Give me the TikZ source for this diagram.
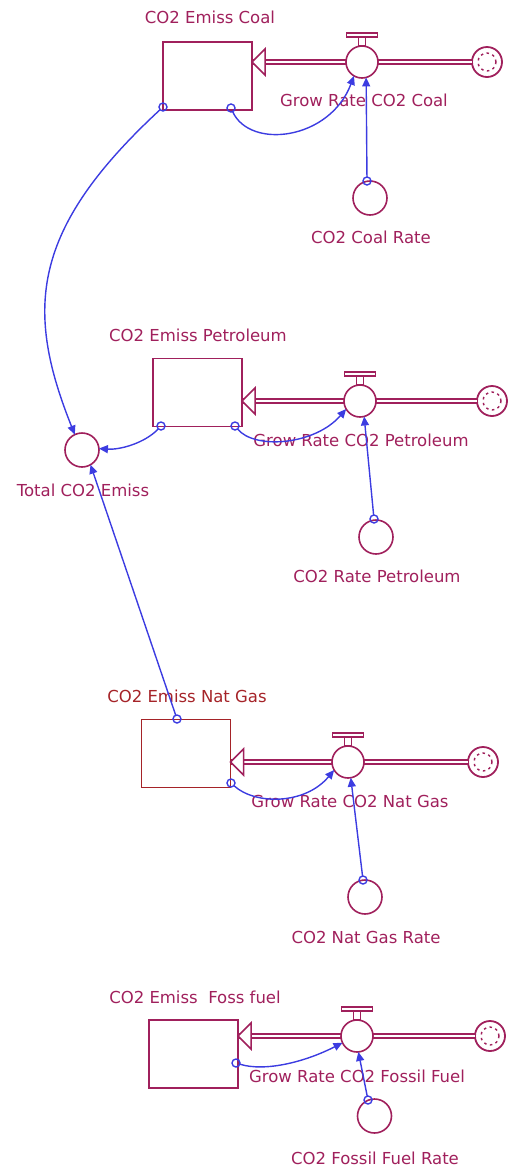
\documentclass[tikz,border=0pt]{standalone}
\usepackage{fontspec}
\setmainfont{DejaVu Sans}
\usetikzlibrary{arrows.meta}
\definecolor{mar}{RGB}{160,32,92}
\definecolor{gasred}{RGB}{165,35,40}
\definecolor{lnk}{RGB}{60,60,225}
\newcommand\valvetop[1]{%
  \draw[mar, line width=1.4pt, fill=white] ([shift={(-3.5,-9)}]#1.north) rectangle ([shift={(3.5,0)}]#1.north);
  \draw[mar, line width=1.4pt, fill=white] ([shift={(-15.5,-13)}]#1.north) rectangle ([shift={(15.5,-9)}]#1.north);}
\newcommand\cloudin[1]{%
  \draw[mar, line width=1.4pt, dash pattern=on 2.5pt off 3.5pt] (#1.center) circle[radius=9pt];}
\begin{document}
\begin{tikzpicture}[x=1pt,y=-1pt,
  every node/.style={inner sep=0pt, outer sep=0pt},
  lbl/.style={text=mar, font=\fontsize{16.5}{18}\selectfont},
  stockbox/.style={draw=mar, line width=1.8pt, rectangle, minimum width=89pt, minimum height=68pt},
  valvec/.style={draw=mar, line width=1.6pt, circle, fill=white, minimum size=32pt},
  auxc/.style={draw=mar, line width=1.6pt, circle, minimum size=34pt},
  cloudc/.style={draw=mar, line width=1.8pt, circle, fill=white, minimum size=30pt},
  linkc/.style={draw=lnk, line width=1.4pt, circle, minimum size=8pt},
  conn/.style={draw=lnk, line width=1.4pt, -{Triangle[length=9pt,width=8pt]}},
  pipe/.style={draw=mar, line width=1.5pt, double=white, double distance=2.6pt},
  flowhead/.style={draw=mar, line width=1.5pt, fill=white, line join=miter},
]
\useasboundingbox (0,0) rectangle (509,1171);

% ---------- Coal ----------
\node[stockbox] (sCoal) at (207.5,76) {};
\node[lbl] (tCoal) at (210,17) {CO2 Emiss Coal};
\coordinate (pCoal) at (362,62);
\node[cloudc] (cCoal) at (487,62) {};
\cloudin{cCoal}
\draw[pipe] (cCoal.west) -- (sCoal.east |- pCoal);
\draw[flowhead] (sCoal.east |- pCoal) -- ++(13,-13) -- ++(0,26) -- cycle;
\node[valvec] (vCoal) at (pCoal) {};
\valvetop{vCoal}
\node[lbl] (gCoal) at (364,100) {Grow Rate CO2 Coal};
\node[auxc] (rCoal) at (370,198) {};
\node[lbl] (rlCoal) at (371,237) {CO2 Coal Rate};

% ---------- Petroleum ----------
\node[stockbox] (sPet) at (197.5,392.5) {};
\node[lbl] (tPet) at (198,335) {CO2 Emiss Petroleum};
\coordinate (pPet) at (360,401);
\node[cloudc] (cPet) at (492,401) {};
\cloudin{cPet}
\draw[pipe] (cPet.west) -- (sPet.east |- pPet);
\draw[flowhead] (sPet.east |- pPet) -- ++(13,-13) -- ++(0,26) -- cycle;
\node[valvec] (vPet) at (pPet) {};
\valvetop{vPet}
\node[lbl] (gPet) at (361,440) {Grow Rate CO2 Petroleum};
\node[auxc] (rPet) at (376,537) {};
\node[lbl] (rlPet) at (377,576) {CO2 Rate Petroleum};

% ---------- Total ----------
\node[auxc] (total) at (82,450) {};
\node[lbl] (tTotal) at (83,490) {Total CO2 Emiss};

% ---------- Nat Gas ----------
\node[stockbox, draw=gasred] (sGas) at (186,753.5) {};
\node[lbl, text=gasred] (tGas) at (187,696) {CO2 Emiss Nat Gas};
\coordinate (pGas) at (348,762);
\node[cloudc] (cGas) at (483,762) {};
\cloudin{cGas}
\draw[pipe] (cGas.west) -- (sGas.east |- pGas);
\draw[flowhead] (sGas.east |- pGas) -- ++(13,-13) -- ++(0,26) -- cycle;
\node[valvec] (vGas) at (pGas) {};
\valvetop{vGas}
\node[lbl] (gGas) at (350,801) {Grow Rate CO2 Nat Gas};
\node[auxc] (rGas) at (365,897) {};
\node[lbl] (rlGas) at (366,937) {CO2 Nat Gas Rate};

% ---------- Fossil ----------
\node[stockbox] (sFos) at (193.5,1054) {};
\node[lbl] (tFos) at (195,997) {CO2 Emiss\ \ Foss fuel};
\coordinate (pFos) at (357,1036);
\node[cloudc] (cFos) at (490,1036) {};
\cloudin{cFos}
\draw[pipe] (cFos.west) -- (sFos.east |- pFos);
\draw[flowhead] (sFos.east |- pFos) -- ++(13,-13) -- ++(0,26) -- cycle;
\node[valvec] (vFos) at (pFos) {};
\valvetop{vFos}
\node[lbl] (gFos) at (357,1076) {Grow Rate CO2 Fossil Fuel};
\node[auxc] (rFos) at (374.5,1116) {};
\node[lbl] (rlFos) at (375,1158) {CO2 Fossil Fuel Rate};

% ---------- link circles ----------
\node[linkc] (lCoalT) at (163,107) {};
\node[linkc] (lCoalB) at (231,108) {};
\node[linkc] (lCoalR) at (367,181) {};
\node[linkc] (lPetT) at (161,426) {};
\node[linkc] (lPetB) at (235,426) {};
\node[linkc] (lPetR) at (374,519) {};
\node[linkc] (lGasT) at (177,719) {};
\node[linkc] (lGasB) at (231,783) {};
\node[linkc] (lGasR) at (363,880) {};
\node[linkc] (lFosB) at (236,1063) {};
\node[linkc] (lFosR) at (368,1100) {};

% ---------- connectors ----------
\draw[conn] (lCoalB) .. controls (250,150) and (330,140) .. (vCoal.-120);
\draw[conn] (lCoalR) -- (vCoal.-75);
\draw[conn] (lCoalT) .. controls (30,230) and (25,310) .. (total.115);
\draw[conn] (lPetB) .. controls (255,450) and (315,445) .. (vPet.-150);
\draw[conn] (lPetR) -- (vPet.-75);
\draw[conn] (lPetT) .. controls (145,443) and (120,450) .. (total.5);
\draw[conn] (lGasB) .. controls (255,805) and (305,805) .. (vGas.-150);
\draw[conn] (lGasR) -- (vGas.-80);
\draw[conn] (lGasT) -- (total.-60);
\draw[conn] (lFosB) .. controls (265,1072) and (305,1062) .. (vFos.-155);
\draw[conn] (lFosR) -- (vFos.-85);
\end{tikzpicture}
\end{document}
